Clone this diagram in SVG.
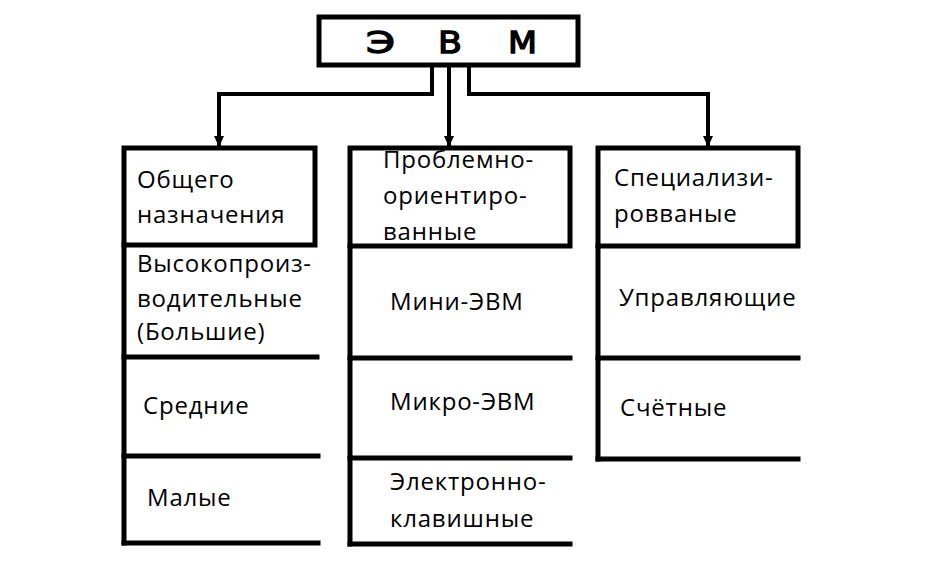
<svg xmlns="http://www.w3.org/2000/svg" width="943" height="565" viewBox="0 0 943 565">
<style>
.frame{fill:none;stroke:#000;stroke-width:5;stroke-linecap:square}
.ln{stroke:#000;stroke-width:5;stroke-linecap:square;fill:none}
.con{stroke:#000;stroke-width:4;fill:none}
.t{font-family:"Open Sans","Noto Sans","DejaVu Sans",sans-serif;font-size:24px;letter-spacing:0.8px;fill:#000}
.big{font-family:"DejaVu Sans","Liberation Sans",sans-serif;font-size:30px;fill:#000;stroke:#000;stroke-width:1.3}
</style>
<defs>
<marker id="ah" markerUnits="userSpaceOnUse" markerWidth="12" markerHeight="12" viewBox="0 0 12 12" refX="10" refY="6" orient="auto">
<path d="M0,1 L11,6 L0,11 Z" fill="#000"/>
</marker>
</defs>
<rect width="943" height="565" fill="#fff"/>
<g id="evm">
<rect class="frame" x="319" y="17" width="259" height="48"/>
<text class="big" x="366" y="53" textLength="29" lengthAdjust="spacingAndGlyphs">Э</text>
<text class="big" x="438" y="53" textLength="24" lengthAdjust="spacingAndGlyphs">В</text>
<text class="big" x="508" y="53" textLength="29" lengthAdjust="spacingAndGlyphs">М</text>
</g>
<g id="connectors">
<polyline class="con" points="432,65 432,94 219,94 219,146" marker-end="url(#ah)"/>
<line class="con" x1="449" y1="65" x2="449" y2="146" stroke-width="3" marker-end="url(#ah)"/>
<polyline class="con" points="469,65 469,94 708,94 708,146" marker-end="url(#ah)"/>
</g>
<g id="col-general">
<rect class="frame" x="124" y="148" width="191" height="97"/>
<line class="ln" x1="124" y1="245" x2="124" y2="543"/>
<line class="ln" x1="124" y1="357" x2="317" y2="357"/>
<line class="ln" x1="124" y1="456" x2="318" y2="456"/>
<line class="ln" x1="124" y1="543" x2="318" y2="543"/>
<text class="t" x="137" y="188">Общего</text>
<text class="t" x="137" y="223">назначения</text>
<text class="t" x="137" y="272">Высокопроиз-</text>
<text class="t" x="137" y="307">водительные</text>
<text class="t" x="137" y="340">(Большие)</text>
<text class="t" x="143" y="414">Средние</text>
<text class="t" x="147" y="506">Малые</text>
</g>
<g id="col-problem">
<rect class="frame" x="350" y="148" width="220" height="98"/>
<line class="ln" x1="350" y1="246" x2="350" y2="544"/>
<line class="ln" x1="350" y1="358" x2="570" y2="358"/>
<line class="ln" x1="350" y1="458" x2="570" y2="458"/>
<line class="ln" x1="350" y1="544" x2="570" y2="544"/>
<text class="t" x="383" y="168">Проблемно-</text>
<text class="t" x="383" y="204">ориентиро-</text>
<text class="t" x="383" y="240">ванные</text>
<text class="t" x="390" y="310">Мини-ЭВМ</text>
<text class="t" x="390" y="410">Микро-ЭВМ</text>
<text class="t" x="390" y="490">Электронно-</text>
<text class="t" x="390" y="527">клавишные</text>
</g>
<g id="col-special">
<rect class="frame" x="598" y="148" width="200" height="98"/>
<line class="ln" x1="598" y1="246" x2="598" y2="459"/>
<line class="ln" x1="598" y1="358" x2="798" y2="358"/>
<line class="ln" x1="598" y1="459" x2="798" y2="459"/>
<text class="t" x="614" y="186">Специализи-</text>
<text class="t" x="614" y="222">ровваные</text>
<text class="t" x="619" y="306">Управляющие</text>
<text class="t" x="620" y="416">Счётные</text>
</g>
</svg>
